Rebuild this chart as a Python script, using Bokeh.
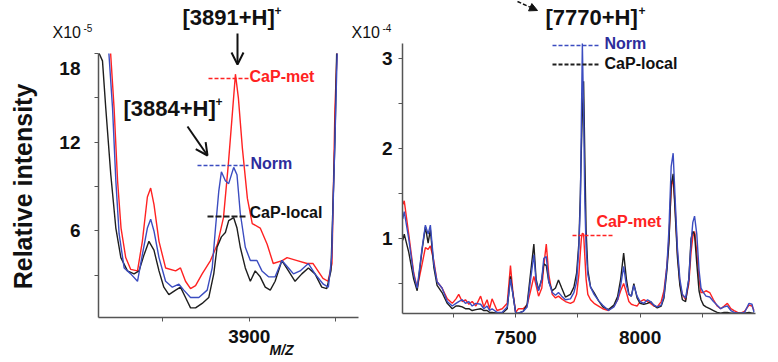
import math
from bokeh.plotting import figure
from bokeh.layouts import row
from bokeh.models import Range1d, FixedTicker, Label, Arrow, OpenHead, NormalHead
from bokeh.embed import file_html
from bokeh.resources import INLINE

FONT = "Liberation Sans"

# ---------------- data: left panel (x10^-5) ----------------
left_red_mz = [3820, 3822, 3824, 3826, 3828.7, 3831.6, 3835.5, 3838.3, 3841.2, 3843.1, 3845, 3847.9,
               3851.7, 3857.5, 3860.3, 3863.2, 3866.1, 3869, 3872.8, 3877.6, 3881.6, 3885.1, 3887.9,
               3890.2, 3892, 3893.7, 3896, 3898.9, 3901.7, 3906.3, 3910.3, 3913.8, 3919, 3921.8,
               3927.6, 3933.3, 3936.8, 3942.5, 3945.4, 3947.7, 3949.4, 3950.6]
left_red = [18, 14.3, 9.4, 6.2, 4.2, 3.4, 3.3, 5.3, 8.3, 8.9, 7.8, 5.3, 3.5, 3.3, 3.5, 2.6, 2.1, 2.3,
            3.1, 4.0, 5.1, 6.9, 10.5, 13.9, 16.6, 15.0, 11.6, 8.2, 6.5, 6.2, 5.1, 3.8, 4.0, 4.2, 4.0,
            3.8, 3.8, 2.8, 2.6, 3.8, 14.3, 18]

left_blue_mz = [3819, 3821.1, 3823, 3824.9, 3827.8, 3831.6, 3835.5, 3838.3, 3841.2, 3843.1, 3845,
                3847.9, 3851.7, 3855.6, 3859.4, 3862.2, 3866.1, 3870.9, 3875.7, 3878.6, 3880.5,
                3882.4, 3883.9, 3886.2, 3888.1, 3891, 3892.9, 3894.8, 3897.7, 3900.6, 3904.4,
                3907.3, 3911.1, 3914.9, 3918.8, 3922.6, 3925.5, 3929.3, 3934.1, 3937.9, 3942.7,
                3945.6, 3947.5, 3949.4, 3950.7]
left_blue = [18, 14.3, 9.4, 5.8, 3.5, 3.1, 2.6, 4.4, 6.2, 6.8, 6.0, 4.2, 2.6, 2.2, 2.4, 2.0, 1.5,
             1.5, 2.0, 3.5, 6.2, 8.7, 10.0, 9.4, 9.2, 10.3, 9.8, 7.2, 4.9, 4.0, 4.0, 3.3, 2.9, 2.9,
             4.0, 3.5, 3.1, 3.3, 3.8, 3.1, 2.4, 2.2, 4.2, 12.1, 18]

left_black_mz = [3813.4, 3815.3, 3817.2, 3820.1, 3823, 3825.9, 3829.7, 3833.5, 3836.4, 3839.3,
                 3842.1, 3845, 3847.9, 3850.7, 3853.6, 3857.5, 3860.3, 3863.2, 3866.1, 3869,
                 3872.8, 3876.6, 3879.5, 3881.4, 3883.9, 3886.2, 3888.1, 3891, 3892.9, 3894.8,
                 3897.7, 3900.6, 3903.4, 3906.3, 3909.2, 3912.1, 3914.9, 3918.8, 3922.6, 3926.4,
                 3930.3, 3934.1, 3937.9, 3941.8, 3944.7, 3947.1, 3949.4, 3950.4]
left_black = [18, 17.5, 14.3, 9.8, 6.2, 4.2, 3.3, 3.1, 3.3, 4.4, 5.3, 4.7, 3.3, 2.2, 1.7, 2.0, 2.2,
              1.5, 0.8, 0.8, 1.1, 1.5, 3.1, 4.9, 5.6, 5.9, 6.7, 6.9, 6.2, 4.9, 3.5, 2.6, 3.3, 2.9,
              2.2, 2.0, 2.6, 4.0, 3.3, 2.6, 3.1, 3.5, 3.1, 2.2, 2.1, 3.3, 12.1, 18]

# ---------------- data: right panel (x10^-4) ----------------
right_mz = [7046, 7052, 7070, 7090, 7104, 7124, 7137, 7148, 7157, 7171, 7184, 7204, 7225, 7245,
            7260, 7271, 7285, 7298, 7312, 7325, 7340, 7359, 7372, 7385, 7395, 7405, 7425, 7446,
            7466, 7479, 7489, 7500, 7511, 7530, 7546, 7560, 7573, 7582, 7592, 7605, 7613, 7623,
            7633, 7647, 7660, 7672, 7685, 7700, 7720, 7734, 7745, 7754, 7760, 7764, 7768, 7773,
            7778, 7783, 7790, 7801, 7815, 7833, 7850, 7873, 7895, 7910, 7922, 7934, 7945, 7955,
            7965, 7975, 7988, 8000, 8015, 8030, 8042, 8055, 8069, 8085, 8096, 8108, 8116, 8125,
            8133, 8140, 8150, 8160, 8170, 8183, 8196, 8205, 8212, 8219, 8228, 8237, 8245, 8255,
            8265, 8280, 8295, 8310, 8324, 8338, 8351, 8365, 8378, 8392, 8404, 8420, 8438, 8450,
            8458]
right_red = [1.38, 1.42, 1.05, 0.62, 0.45, 0.72, 0.90, 0.88, 0.92, 0.75, 0.52, 0.45, 0.33, 0.28,
             0.33, 0.38, 0.30, 0.32, 0.27, 0.30, 0.25, 0.36, 0.24, 0.32, 0.22, 0.33, 0.20, 0.22,
             0.28, 0.70, 0.40, 0.18, 0.22, 0.22, 0.26, 0.42, 0.58, 0.48, 0.36, 0.45, 0.70, 0.94,
             0.60, 0.38, 0.34, 0.36, 0.33, 0.30, 0.28, 0.30, 0.38, 0.60, 0.85, 1.00, 1.06, 1.05,
             0.80, 0.55, 0.38, 0.32, 0.28, 0.25, 0.22, 0.20, 0.25, 0.32, 0.42, 0.50, 0.40, 0.30,
             0.27, 0.26, 0.25, 0.30, 0.32, 0.30, 0.28, 0.25, 0.24, 0.30, 0.42, 0.70, 1.00, 1.55,
             1.68, 1.40, 0.85, 0.50, 0.38, 0.32, 0.50, 0.85, 1.02, 1.08, 0.85, 0.55, 0.40, 0.40,
             0.42, 0.40, 0.32, 0.25, 0.22, 0.25, 0.28, 0.22, 0.20, 0.18, 0.17, 0.19, 0.26, 0.25,
             0.20]
right_blue = [1.22, 1.30, 1.00, 0.60, 0.45, 0.90, 1.15, 1.05, 1.15, 0.72, 0.52, 0.45, 0.30, 0.25,
              0.28, 0.30, 0.32, 0.28, 0.30, 0.25, 0.28, 0.27, 0.22, 0.25, 0.20, 0.22, 0.18, 0.18,
              0.24, 0.55, 0.38, 0.17, 0.17, 0.19, 0.24, 0.55, 0.82, 0.52, 0.42, 0.55, 0.78, 0.80,
              0.52, 0.40, 0.37, 0.40, 0.36, 0.32, 0.33, 0.40, 0.52, 0.90, 1.40, 2.30, 3.17, 2.40,
              1.40, 0.90, 0.60, 0.46, 0.38, 0.31, 0.26, 0.20, 0.24, 0.32, 0.48, 0.69, 0.48, 0.38,
              0.36, 0.48, 0.36, 0.30, 0.28, 0.32, 0.30, 0.26, 0.24, 0.26, 0.36, 0.70, 1.10, 1.80,
              1.95, 1.50, 0.90, 0.55, 0.38, 0.34, 0.55, 0.95, 1.18, 1.25, 1.05, 0.65, 0.45, 0.40,
              0.36, 0.35, 0.30, 0.26, 0.22, 0.24, 0.25, 0.20, 0.18, 0.17, 0.17, 0.18, 0.28, 0.27,
              0.18]
right_black = [0.98, 1.05, 0.85, 0.55, 0.42, 0.88, 1.13, 0.95, 1.10, 0.68, 0.48, 0.40, 0.28, 0.22,
               0.25, 0.25, 0.24, 0.22, 0.22, 0.20, 0.21, 0.22, 0.20, 0.20, 0.18, 0.18, 0.17, 0.17,
               0.22, 0.58, 0.38, 0.17, 0.17, 0.19, 0.27, 0.62, 0.94, 0.55, 0.43, 0.55, 0.72, 0.70,
               0.52, 0.42, 0.45, 0.54, 0.45, 0.35, 0.38, 0.46, 0.62, 0.95, 1.50, 2.00, 2.40, 2.75,
               1.90, 1.10, 0.65, 0.46, 0.40, 0.31, 0.24, 0.21, 0.26, 0.36, 0.55, 0.84, 0.55, 0.38,
               0.36, 0.50, 0.34, 0.28, 0.27, 0.28, 0.30, 0.26, 0.23, 0.25, 0.34, 0.65, 0.95, 1.60,
               1.72, 1.35, 0.80, 0.48, 0.32, 0.30, 0.55, 1.00, 1.08, 1.05, 0.72, 0.42, 0.32, 0.26,
               0.24, 0.22, 0.20, 0.18, 0.17, 0.18, 0.18, 0.17, 0.17, 0.17, 0.17, 0.17, 0.18, 0.17,
               0.17]

# axis extents and tick values
left_x_bounds, left_y_bounds = (3813, 3963), (0.15, 18.0)
right_x_bounds, right_y_bounds = (7045, 8464), (0.167, 3.17)
left_major_x, left_minor_x = [3900], [3850, 3950]
left_major_y, left_minor_y = [6, 12, 18], [3, 9, 15]
right_major_x, right_minor_x = [7500, 8000], [7250, 7750, 8250]
right_major_y, right_minor_y = [1, 2, 3], [0.5, 1.5, 2.5]

RED = "#ff2222"
BLUE = "#3b4cc0"
BLACK = "#1e1e1e"
TXT_BLUE = "#2d2d9c"
AXC = "#555555"
H = 360


class Geo:
    """Maps page pixels to data for a figure whose whole canvas is the plot frame."""
    def __init__(self, cx0, width, ax_px, ax_py, xb, yb):
        self.cx0, self.w = cx0, width
        self.xs = (xb[1] - xb[0]) / (ax_px[1] - ax_px[0])
        self.ys = (yb[1] - yb[0]) / (ax_py[1] - ax_py[0])
        self.x_start = xb[0] - (ax_px[0] - cx0) * self.xs
        self.x_end = self.x_start + width * self.xs
        self.y_end = yb[1] + ax_py[0] * self.ys
        self.y_start = self.y_end - H * self.ys

    def P(self, px, py):
        return self.x_start + (px - self.cx0) * self.xs, self.y_end - py * self.ys


LG = Geo(0, 380, (98, 358), (53, 317), left_x_bounds, left_y_bounds)
RG = Geo(380, 396, (402, 755), (43, 313), right_x_bounds, right_y_bounds)


def make_fig(g, xb, yb):
    p = figure(output_backend="svg", toolbar_location=None, tools="",
               width=g.w, height=H,
               x_range=Range1d(g.x_start, g.x_end), y_range=Range1d(g.y_start, g.y_end),
               min_border=0, min_border_left=0, min_border_right=0,
               min_border_top=0, min_border_bottom=0)
    p.title.visible = False
    p.outline_line_color = None
    p.grid.visible = False
    p.background_fill_color = "white"
    p.border_fill_color = "white"
    p.xaxis[0].fixed_location = yb[0]
    p.xaxis[0].bounds = xb
    p.yaxis[0].fixed_location = xb[0]
    p.yaxis[0].bounds = yb
    for ax in (p.xaxis[0], p.yaxis[0]):
        ax.axis_line_color = AXC
        ax.axis_line_width = 1.5
        ax.major_tick_line_color = AXC
        ax.minor_tick_line_color = AXC
        ax.major_tick_out = 4
        ax.major_tick_in = 0
        ax.minor_tick_out = 4
        ax.minor_tick_in = 0
        ax.major_label_text_font = FONT
        ax.major_label_text_font_style = "bold"
        ax.major_label_text_font_size = "19px"
        ax.major_label_text_color = "#111111"
    return p


def lab(p, g, px, py, text, size, color="#111111", style="bold", align="left", angle=0.0):
    x, y = g.P(px, py)
    p.add_layout(Label(x=x, y=y, text=text, text_font=FONT, text_font_size=size,
                       text_font_style=style, text_color=color, text_align=align,
                       text_baseline="middle", angle=angle))


def dash(p, g, px0, px1, py, color, width=1.6, pattern="4 2"):
    x0, y0 = g.P(px0, py)
    x1, _ = g.P(px1, py)
    p.line([x0, x1], [y0, y0], line_color=color, line_width=width, line_dash=pattern)


def arrow(p, g, a, b, head, width=2, dashp="solid"):
    x0, y0 = g.P(*a)
    x1, y1 = g.P(*b)
    p.add_layout(Arrow(end=head, x_start=x0, y_start=y0, x_end=x1, y_end=y1,
                       line_width=width, line_color="#111111", line_dash=dashp))


# ---------------- left figure ----------------
p1 = make_fig(LG, left_x_bounds, left_y_bounds)
p1.xaxis[0].ticker = FixedTicker(ticks=left_major_x, minor_ticks=left_minor_x)
p1.yaxis[0].ticker = FixedTicker(ticks=left_major_y, minor_ticks=left_minor_y)
p1.xaxis[0].major_label_standoff = 8
p1.yaxis[0].major_label_standoff = 14
# the top label sits a little below its tick in the reference
p1.yaxis[0].major_label_overrides = {18: ""}
lab(p1, LG, 80, 68, "18", "19px", align="right")

p1.line(left_red_mz, left_red, line_color=RED, line_width=1.4)
p1.line(left_black_mz, left_black, line_color=BLACK, line_width=1.4)
p1.line(left_blue_mz, left_blue, line_color=BLUE, line_width=1.4)

dash(p1, LG, 208, 248, 78, RED)
dash(p1, LG, 197, 248, 165, BLUE)
dash(p1, LG, 207, 247, 216, BLACK, width=2.0, pattern="6 2")

lab(p1, LG, 249, 76, "CaP-met", "16px", RED)
lab(p1, LG, 250, 163, "Norm", "16px", TXT_BLUE)
lab(p1, LG, 249, 212, "CaP-local", "16px", "#111111")

lab(p1, LG, 182, 17, "[3891+H]", "22px")
lab(p1, LG, 274, 10, "+", "12px")
arrow(p1, LG, (237, 33), (237, 64), OpenHead(size=12, line_width=2, line_color="#111111"))

lab(p1, LG, 123, 108, "[3884+H]", "22px")
lab(p1, LG, 215, 101, "+", "12px")
arrow(p1, LG, (187, 126), (207, 155), OpenHead(size=12, line_width=2, line_color="#111111"))

lab(p1, LG, 52, 32, "X10", "16px", style="normal")
lab(p1, LG, 83, 27, "-5", "10px", style="normal")
lab(p1, LG, 351, 32, "X10", "16px", style="normal")

lab(p1, LG, 22, 186, "Relative intensity", "25px", align="center", angle=math.pi / 2)
lab(p1, LG, 269, 349, "M/Z", "14px", style="bold italic")

# ---------------- right figure ----------------
p2 = make_fig(RG, right_x_bounds, right_y_bounds)
p2.xaxis[0].ticker = FixedTicker(ticks=right_major_x, minor_ticks=right_minor_x)
p2.yaxis[0].ticker = FixedTicker(ticks=right_major_y, minor_ticks=right_minor_y)
p2.xaxis[0].major_label_standoff = 13
p2.yaxis[0].major_label_standoff = 6

p2.line(right_mz, right_red, line_color=RED, line_width=1.4)
p2.line(right_mz, right_black, line_color=BLACK, line_width=1.4)
p2.line(right_mz, right_blue, line_color=BLUE, line_width=1.4)

dash(p2, RG, 552, 600, 45, BLUE)
dash(p2, RG, 552, 600, 64, BLACK, width=2.0)
dash(p2, RG, 572, 612, 235, RED)

lab(p2, RG, 604, 43, "Norm", "16px", TXT_BLUE)
lab(p2, RG, 604, 63, "CaP-local", "16px", "#111111")
lab(p2, RG, 596, 221, "CaP-met", "16px", RED)

lab(p2, RG, 545, 17, "[7770+H]", "22px")
lab(p2, RG, 638, 10, "+", "12px")
arrow(p2, RG, (517, 1), (537, 10), NormalHead(size=8, line_color="#111111", fill_color="#111111"),
      width=1.5, dashp="4 2")
lab(p2, RG, 382, 27, "-4", "10px", style="normal")

layout = row(p1, p2)
open("out.html", "w").write(file_html(layout, INLINE))
